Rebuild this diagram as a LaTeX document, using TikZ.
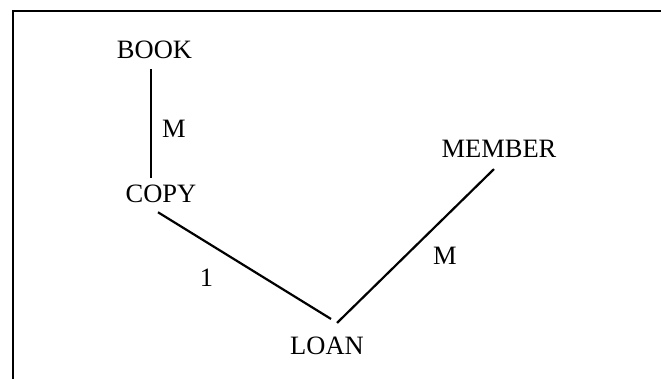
\documentclass[tikz,border=0pt]{standalone}
\usepackage{fontspec}
\setmainfont{Liberation Serif}
\usepackage{tikz}
\usetikzlibrary{calc}

\begin{document}
\begin{tikzpicture}[
		x=0.5pt, y=-0.5pt,
		entity/.style={font=\fontsize{13.25}{15}\selectfont, anchor=base, inner sep=0pt, outer sep=0pt},
		card/.style={font=\fontsize{13.25}{15}\selectfont, anchor=base, inner sep=0pt},
		link/.style={draw=black, line width=1.1pt},
		frameline/.style={draw=black, line width=1.3pt}
	]
	\useasboundingbox (0,0) rectangle (661,379);

	% Frame (top and left edges)
	\draw[frameline] (13,379) -- (13,11) -- (661,11);

	% Entities
	\node[entity] (book) at (154.5, 59) {BOOK};
	\node[entity] (copy) at (161, 203) {COPY};
	\node[entity] (member) at (499, 158) {MEMBER};
	\node[entity] (loan) at (327, 355) {LOAN};

	% Book -- Copy
	\draw[link] ($(book.south)+(-3.5,10)$) -- ($(copy.north)+(-10,-7.5)$);
	\node[card] (cardbook) at (174, 138) {M};

	% Copy -- Loan
	\draw[link] ($(copy.south)+(-3,9)$) -- ($(loan.north)+(4,-18.5)$);
	\node[card] (cardcopy) at (206.5, 287) {1};

	% Member -- Loan
	\draw[link] ($(loan.north)+(10,-14.5)$) -- ($(member.south)+(-5,11)$);
	\node[card] (cardmember) at (445, 265) {M};
\end{tikzpicture}
\end{document}
